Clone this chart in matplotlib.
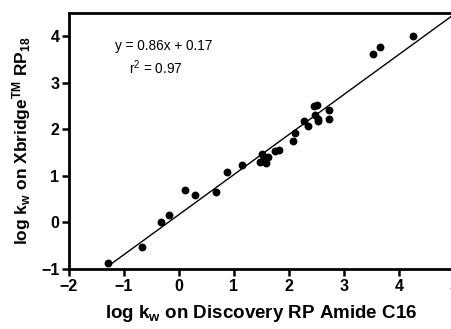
import matplotlib
matplotlib.use("Agg")
import matplotlib.pyplot as plt
import numpy as np

plt.rcParams['font.family'] = ['Liberation Sans', 'DejaVu Sans']
plt.rcParams['mathtext.default'] = 'regular'

x_vals = [-1.30, -0.67, -0.33, -0.19, 0.10, 0.29, 0.68, 0.87, 1.15, 1.47, 1.50, 1.54,
          1.58, 1.62, 1.75, 1.82, 2.08, 2.10, 2.28, 2.35, 2.46, 2.50, 2.48, 2.52,
          2.53, 2.72, 2.73, 3.52, 3.66, 4.26]
y_vals = [-0.88, -0.52, 0.00, 0.17, 0.70, 0.60, 0.65, 1.09, 1.23, 1.30, 1.47, 1.38,
          1.27, 1.40, 1.53, 1.56, 1.75, 1.93, 2.17, 2.08, 2.51, 2.52, 2.30, 2.23,
          2.18, 2.23, 2.42, 3.61, 3.76, 4.00]
slope = 0.86
intercept = 0.17
fit_range = [-1.30, 5.0]
x_ticks = [-2, -1, 0, 1, 2, 3, 4, 5]
y_ticks = [-1, 0, 1, 2, 3, 4]

fig = plt.figure(figsize=(4.51, 3.29), dpi=100)
ax = fig.add_axes([69/451, 1-269/329, (454-69)/451, 256/329])

ax.scatter(x_vals, y_vals, s=32, color='black', zorder=3, linewidths=0)
fx = np.array(fit_range)
ax.plot(fx, slope*fx + intercept, color='black', lw=1.0, clip_on=False)

ax.set_xlim(-2, 5)
ax.set_ylim(-1, 4.5)
ax.set_xticks(x_ticks)
ax.set_yticks(y_ticks)
for s in ['top', 'right', 'left', 'bottom']:
    ax.spines[s].set_linewidth(2)
ax.tick_params(direction='out', length=5, width=1.8, labelsize=11.5, pad=2)
for lab in ax.get_xticklabels() + ax.get_yticklabels():
    lab.set_fontweight('bold')

ax.set_xlabel(r'log k$_{w}$ on Discovery RP Amide C16', fontsize=13.5, fontweight='bold', labelpad=7)
ax.set_ylabel(r'log k$_{w}$ on Xbridge$^{TM}$ RP$_{18}$', fontsize=12.5, fontweight='bold', labelpad=6)

ax.text(-0.27, 3.79, 'y = 0.86x + 0.17', fontsize=9.8, ha='center', va='center')
ax.text(-0.42, 3.33, r'r$^{2}$ = 0.97', fontsize=9.8, ha='center', va='center')

fig.savefig('out.png', dpi=100)
